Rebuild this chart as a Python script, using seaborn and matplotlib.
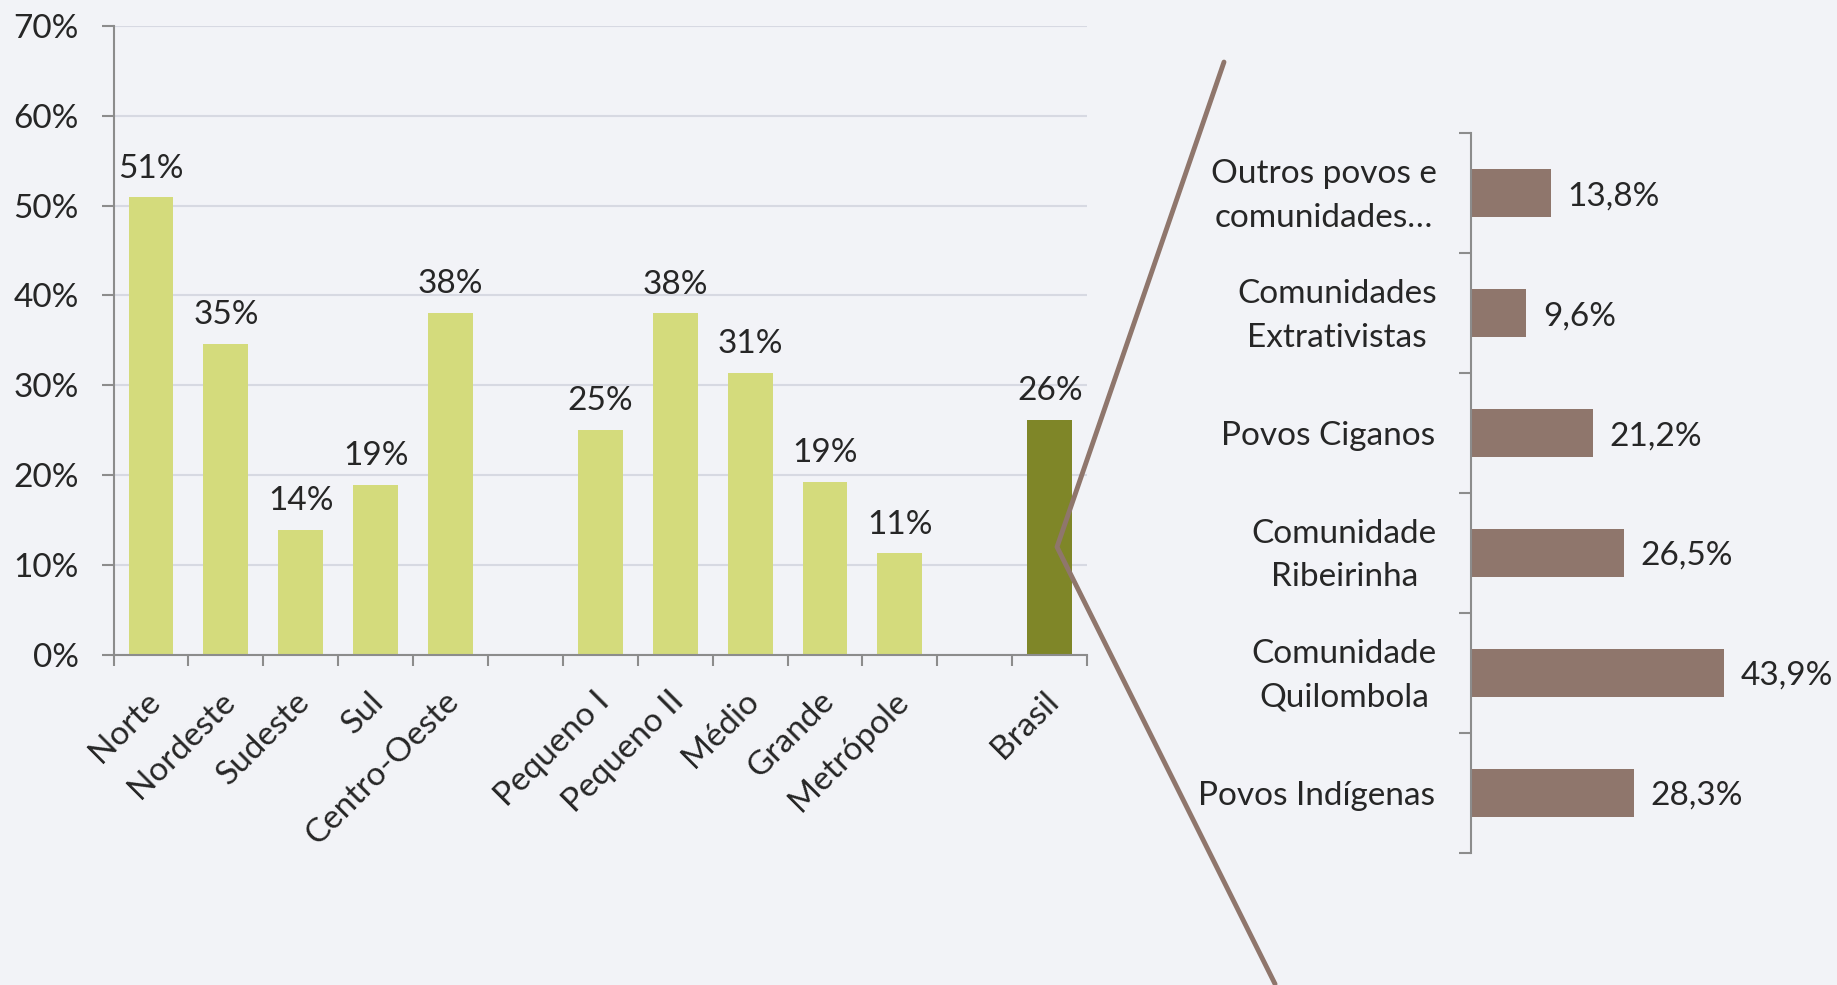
import numpy as np
import pandas as pd
import matplotlib.pyplot as plt
import seaborn as sns
from matplotlib.lines import Line2D
from matplotlib.transforms import ScaledTranslation

# data
regioes = ["Norte", "Nordeste", "Sudeste", "Sul", "Centro-Oeste"]
regioes_pct = [50.9, 34.6, 13.9, 18.9, 38.1]
portes = ["Pequeno I", "Pequeno II", "Médio", "Grande", "Metrópole"]
portes_pct = [25.0, 38.0, 31.4, 19.3, 11.3]
brasil = ["Brasil"]
brasil_pct = [26.2]

povos = ["Outros povos e\ncomunidades…", "Comunidades\nExtrativistas", "Povos Ciganos",
         "Comunidade\nRibeirinha", "Comunidade\nQuilombola", "Povos Indígenas"]
povos_pct = [13.8, 9.6, 21.2, 26.5, 43.9, 28.3]

sns.set_style("white")
plt.rcParams['font.family'] = ['Lato', 'DejaVu Sans']
plt.rcParams['font.size'] = 24

bg = "#f2f3f7"
light = "#d4db7c"
dark = "#7f8628"
brown = "#8f766c"
axis_col = "#8c8c8c"

slots = regioes + ["gap1"] + portes + ["gap2"] + brasil
df_left = pd.DataFrame({
    "cat": regioes + portes + brasil,
    "pct": regioes_pct + portes_pct + brasil_pct,
    "grupo": ["regiao"] * 5 + ["porte"] * 5 + ["brasil"],
})

fig = plt.figure(figsize=(18.37, 9.85), dpi=100, facecolor=bg)
ax1 = fig.add_axes([0.0618, 0.335, 0.530, 0.6388])
ax2 = fig.add_axes([0.8008, 0.134, 0.1568, 0.7305])
for ax in (ax1, ax2):
    ax.set_facecolor("none")

# left chart
sns.barplot(data=df_left, x="cat", y="pct", order=slots, hue="grupo",
            palette={"regiao": light, "porte": light, "brasil": dark},
            dodge=False, width=0.6, legend=False, saturation=1,
            linewidth=0, edgecolor="none", ax=ax1)
ax1.set_xlim(-0.5, len(slots) - 0.5)
ax1.set_ylim(0, 70)
ax1.set_yticks(range(0, 71, 10), [f"{v}%" for v in range(0, 71, 10)])
ax1.yaxis.grid(True, color="#d7d9e2", lw=1.5)
ax1.set_axisbelow(True)
ax1.set_xlabel("")
ax1.set_ylabel("")
for s in ("top", "right"):
    ax1.spines[s].set_visible(False)
for s in ("left", "bottom"):
    ax1.spines[s].set_color(axis_col)
    ax1.spines[s].set_linewidth(1.5)
ax1.tick_params(axis="y", left=True, length=9, width=1.5, color=axis_col, pad=16, labelsize=24)

labels = [c if not c.startswith("gap") else "" for c in slots]
ax1.set_xticks(range(len(slots)), labels, rotation=45, ha="right",
               rotation_mode="anchor", va="center")
ax1.set_xticks(np.arange(-0.5, len(slots)), minor=True)
ax1.tick_params(axis="x", which="major", bottom=True, length=0, pad=30, labelsize=24)
ax1.tick_params(axis="x", which="minor", bottom=True, length=8, width=1.5, color=axis_col)
off = ScaledTranslation(4 / 100, 0, fig.dpi_scale_trans)
for t in ax1.get_xticklabels():
    t.set_transform(t.get_transform() + off)

lookup = dict(zip(df_left["cat"], df_left["pct"]))
for i, c in enumerate(slots):
    if c in lookup:
        v = lookup[c]
        ax1.annotate(f"{v:.0f}%", (i, v), xytext=(0, 10), textcoords="offset points",
                     ha="center", va="bottom", fontsize=24)

# right chart
sns.barplot(x=povos_pct, y=povos, orient="h", color=brown, width=0.4,
            saturation=1, linewidth=0, edgecolor="none", ax=ax2)
ax2.set_xlim(0, 50)
ax2.set_ylim(len(povos) - 0.5, -0.5)
ax2.set_xticks([])
ax2.set_xlabel("")
for s in ("top", "right", "bottom"):
    ax2.spines[s].set_visible(False)
ax2.spines["left"].set_color(axis_col)
ax2.spines["left"].set_linewidth(1.5)
ax2.set_yticks(range(len(povos)), povos, multialignment="center", linespacing=1.55)
ax2.set_yticks(np.arange(-0.5, len(povos)), minor=True)
ax2.tick_params(axis="y", which="major", left=True, length=0, pad=26, labelsize=24)
ax2.tick_params(axis="y", which="minor", left=True, length=9, width=1.5, color=axis_col)
up = ScaledTranslation(2 / 100, 7 / 100, fig.dpi_scale_trans)
for t in ax2.get_yticklabels():
    if "\n" in t.get_text():
        t.set_transform(t.get_transform() + up)
for i, v in enumerate(povos_pct):
    ax2.annotate(f"{v:.1f}%".replace(".", ","), (v, i), xytext=(12, -2),
                 textcoords="offset points", ha="left", va="center", fontsize=24)

# connector line between the two charts
fig.add_artist(Line2D([0.6663, 0.5754, 0.6941], [0.937, 0.4447, 0.001],
                      transform=fig.transFigure, color=brown, lw=3.5, zorder=10))

fig.savefig("out.png", dpi=100, facecolor=bg)
